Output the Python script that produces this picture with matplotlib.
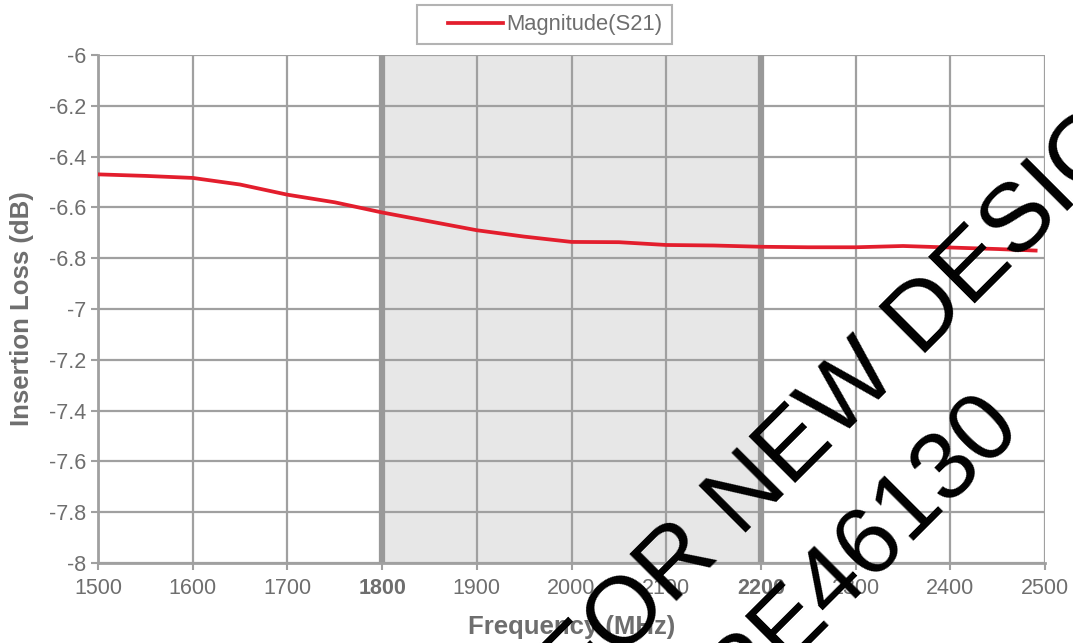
import matplotlib.pyplot as plt
from matplotlib.legend_handler import HandlerLine2D

# S21 magnitude
freq = [1500, 1550, 1600, 1650, 1700, 1750, 1775, 1800, 1850, 1900, 1950,
        2000, 2050, 2100, 2150, 2200, 2250, 2300, 2350, 2400, 2450, 2490]
s21 = [-6.470, -6.476, -6.484, -6.510, -6.550, -6.580, -6.600, -6.620,
       -6.655, -6.690, -6.715, -6.736, -6.737, -6.748, -6.750, -6.755,
       -6.757, -6.757, -6.752, -6.758, -6.764, -6.770]

band = [1800, 2200]
xticks = [1500, 1600, 1700, 1800, 1900, 2000, 2100, 2200, 2300, 2400, 2500]
yticks = [-8, -7.8, -7.6, -7.4, -7.2, -7, -6.8, -6.6, -6.4, -6.2, -6]
ytick_labels = ["-8", "-7.8", "-7.6", "-7.4", "-7.2", "-7", "-6.8", "-6.6",
                "-6.4", "-6.2", "-6"]
watermark = ["NOT FOR NEW DESIGN", "PE46130"]

grey = "#a0a0a0"
text_grey = "#6e6e6e"
plt.rcParams["font.family"] = ["Liberation Sans", "DejaVu Sans"]

fig = plt.figure(figsize=(10.73, 6.43), dpi=100)
ax = fig.add_axes([0.0913, 0.1244, 0.8827, 0.7901])

ax.axvspan(band[0], band[1], color="#e7e7e7", zorder=0, lw=0)
ax.grid(True, color=grey, lw=1.6, zorder=1)
for b in band:
    ax.axvline(b, color="#999999", lw=4.5, zorder=2)

line, = ax.plot(freq, s21, color="#e31e2d", lw=2.7, label="Magnitude(S21)",
                zorder=3)

ax.set_xlim(1500, 2500)
ax.set_ylim(-8, -6)
ax.set_xticks(xticks)
ax.set_yticks(yticks)
ax.set_yticklabels(ytick_labels)
ax.tick_params(colors=grey, labelcolor=text_grey, labelsize=15.5,
               length=5, width=1.5, direction="out")
ax.tick_params(axis="x", pad=5.5)
for lbl in ax.get_xticklabels():
    if lbl.get_text() in ("1800", "2200"):
        lbl.set_fontweight("bold")

for side in ("top", "right"):
    ax.spines[side].set_visible(False)
for side in ("left", "bottom"):
    ax.spines[side].set_color(grey)
    ax.spines[side].set_linewidth(2)

ax.set_xlabel("Frequency (MHz)", fontsize=18.5, fontweight="bold",
              color=text_grey, labelpad=12)
ax.set_ylabel("Insertion Loss (dB)", fontsize=18.5, fontweight="bold",
              color=text_grey, labelpad=11)

# legend sits in the top margin, left-padded line sample like the original
leg = fig.legend(handles=[line], loc="upper left",
                 bbox_to_anchor=(417 / 1073, 1 - 5 / 643),
                 frameon=True, fancybox=False, fontsize=15.8, handlelength=3.5,
                 borderpad=0.42, handletextpad=0.15, borderaxespad=0,
                 handler_map={line: HandlerLine2D(xpad=1.0)})
leg.get_frame().set_edgecolor(grey)
leg.get_frame().set_linewidth(1.5)
for t in leg.get_texts():
    t.set_color(text_grey)

# watermark, one text per line so each baseline can be placed
wm_pos = [(0.7447, 0.2535), (0.8201, 0.1182)]
for txt, (wx, wy) in zip(watermark, wm_pos):
    fig.text(wx, wy, txt, fontsize=70, rotation=45, rotation_mode="anchor",
             ha="center", va="baseline", color="black", zorder=10)

fig.savefig("out.png", dpi=100)
plt.close(fig)
